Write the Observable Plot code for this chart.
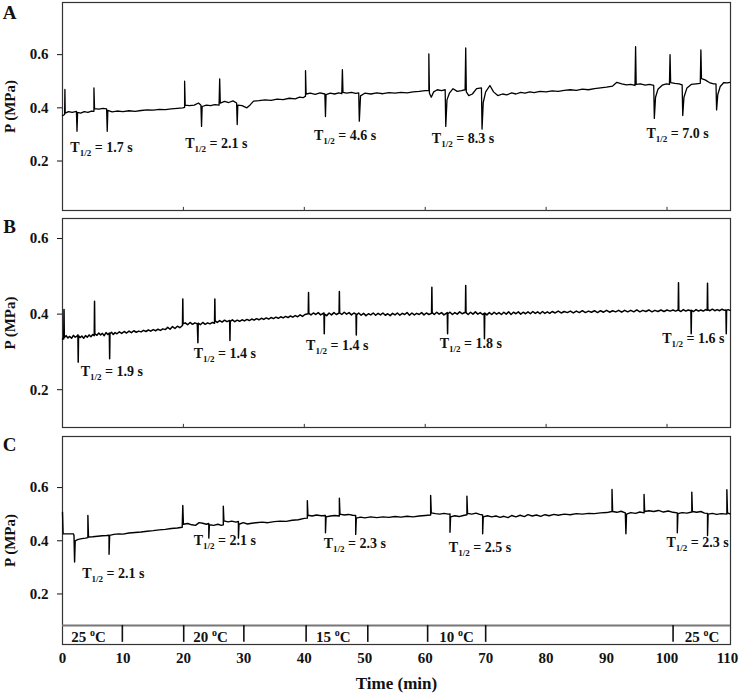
<!DOCTYPE html>
<html><head><meta charset="utf-8">
<script src="https://cdn.jsdelivr.net/npm/d3@7"></script>
<script src="https://cdn.jsdelivr.net/npm/@observablehq/plot@0.6"></script>
<style>
body{margin:0;background:#fff}
#wrap{position:relative;width:740px;height:694px;background:#fff}
#wrap svg{position:absolute;left:0}
#wrap svg g[aria-label*="tick label"], #wrap svg g[aria-label*="tick label"] text{font-size:15px}
</style></head><body><div id="wrap"></div>
<script>
// ---- data (time in min, pressure in MPa) ----
const traceA = [[0,0.37],[0.35,0.375],[0.4,0.469],[0.45,0.38],[1,0.386],[1.6,0.383],[2.3,0.387],[2.4,0.312],[2.5,0.383],[3,0.38],[3.6,0.386],[4.2,0.383],[4.8,0.388],[5.2,0.387],[5.2,0.475],[5.3,0.397],[6,0.395],[6.7,0.398],[7.3,0.396],[7.4,0.312],[7.5,0.39],[8.2,0.385],[9,0.388],[10,0.386],[11,0.389],[12,0.387],[13,0.39],[14,0.392],[15,0.391],[16,0.394],[17,0.393],[18,0.396],[19,0.398],[19.9,0.4],[20.2,0.402],[20.2,0.50],[20.3,0.41],[21,0.408],[21.8,0.41],[22.5,0.418],[22.9,0.41],[23.0,0.33],[23.1,0.405],[23.8,0.41],[24.5,0.408],[25.2,0.412],[25.9,0.41],[26.0,0.509],[26.1,0.418],[26.8,0.424],[27.5,0.42],[28.2,0.426],[28.8,0.418],[28.9,0.337],[29.0,0.41],[29.7,0.408],[30.5,0.4],[31,0.41],[31.6,0.425],[32.5,0.427],[33.5,0.43],[34.5,0.428],[35.5,0.433],[36.5,0.431],[37.5,0.436],[38.5,0.434],[39.2,0.44],[39.8,0.438],[40.2,0.444],[40.2,0.54],[40.3,0.452],[41,0.455],[41.8,0.451],[42.6,0.456],[43.4,0.452],[43.5,0.367],[43.6,0.45],[44.3,0.455],[45,0.452],[45.7,0.456],[46.2,0.453],[46.3,0.544],[46.4,0.458],[47,0.455],[47.8,0.458],[48.5,0.454],[49.0,0.456],[49.1,0.35],[49.3,0.445],[50,0.455],[51,0.452],[52,0.456],[53,0.453],[54,0.457],[55,0.455],[56,0.458],[57,0.456],[58,0.46],[59,0.462],[60,0.465],[60.6,0.466],[60.6,0.603],[60.7,0.455],[61,0.44],[61.4,0.46],[62,0.468],[62.7,0.465],[63.3,0.468],[63.4,0.33],[63.6,0.43],[64,0.455],[64.6,0.472],[65.3,0.462],[66,0.465],[66.6,0.468],[66.7,0.625],[66.8,0.46],[67.2,0.446],[67.8,0.452],[68.5,0.472],[69.3,0.475],[69.4,0.32],[69.6,0.42],[70,0.46],[70.7,0.484],[71.3,0.46],[72,0.446],[72.8,0.452],[73.5,0.449],[74.3,0.456],[75,0.452],[75.8,0.458],[76.5,0.455],[77.3,0.46],[78,0.457],[79,0.462],[80,0.46],[81,0.464],[82,0.462],[83,0.466],[84,0.468],[85,0.466],[86,0.47],[87,0.468],[88,0.472],[89,0.475],[90,0.478],[91,0.482],[91.7,0.496],[92.5,0.49],[93.3,0.486],[94,0.488],[94.7,0.484],[94.8,0.63],[94.9,0.488],[95.6,0.49],[96.4,0.485],[97.1,0.488],[97.8,0.484],[97.9,0.36],[98.1,0.44],[98.5,0.47],[99.2,0.485],[99.9,0.49],[100.4,0.488],[100.5,0.60],[100.6,0.495],[101.3,0.492],[102,0.49],[102.5,0.486],[102.6,0.371],[102.8,0.44],[103.3,0.475],[104,0.488],[104.8,0.49],[105.5,0.492],[105.6,0.618],[105.7,0.51],[106.3,0.505],[107,0.495],[107.7,0.49],[108.1,0.49],[108.2,0.392],[108.4,0.45],[108.8,0.48],[109.4,0.495],[110,0.494],[110.4,0.496]];

const traceB = [[0,0.334],[0.2,0.334],[0.25,0.412],[0.3,0.338],[0.6,0.343],[0.9,0.337],[1.2,0.341],[1.5,0.336],[1.8,0.344],[2.1,0.339],[2.4,0.342],[2.55,0.345],[2.6,0.273],[2.65,0.343],[2.9,0.338],[3.2,0.342],[3.5,0.336],[3.8,0.343],[4.1,0.339],[4.4,0.345],[4.7,0.34],[5.0,0.346],[5.25,0.343],[5.3,0.434],[5.35,0.348],[5.7,0.344],[6.0,0.35],[6.3,0.345],[6.6,0.349],[6.9,0.343],[7.2,0.351],[7.5,0.346],[7.75,0.35],[7.8,0.282],[7.85,0.348],[8.1,0.352],[8.4,0.346],[8.7,0.351],[9.0,0.348],[9.4,0.353],[9.8,0.349],[10.2,0.354],[10.6,0.35],[11.0,0.355],[11.4,0.351],[11.8,0.356],[12.2,0.352],[12.6,0.355],[13.0,0.353],[13.4,0.357],[13.8,0.354],[14.2,0.358],[14.6,0.355],[15.0,0.359],[15.4,0.356],[15.8,0.36],[16.2,0.357],[16.6,0.361],[17.0,0.359],[17.4,0.365],[17.8,0.36],[18.2,0.367],[18.6,0.362],[19.0,0.368],[19.4,0.364],[19.85,0.37],[19.9,0.44],[19.95,0.374],[20.3,0.377],[20.7,0.372],[21.1,0.378],[21.5,0.373],[21.9,0.377],[22.3,0.374],[22.4,0.324],[22.45,0.376],[22.8,0.372],[23.2,0.378],[23.6,0.373],[24.0,0.377],[24.4,0.374],[24.8,0.378],[25.15,0.376],[25.2,0.44],[25.25,0.382],[25.6,0.378],[26.0,0.383],[26.4,0.379],[26.8,0.384],[27.2,0.38],[27.65,0.383],[27.7,0.33],[27.75,0.381],[28.1,0.385],[28.5,0.38],[28.9,0.384],[29.3,0.381],[29.7,0.385],[30.1,0.382],[30.5,0.386],[30.9,0.383],[31.3,0.387],[31.7,0.384],[32.1,0.388],[32.5,0.385],[32.9,0.389],[33.3,0.386],[33.7,0.39],[34.1,0.387],[34.5,0.391],[34.9,0.388],[35.3,0.392],[35.7,0.389],[36.1,0.393],[36.5,0.39],[36.9,0.394],[37.3,0.391],[37.7,0.395],[38.1,0.392],[38.5,0.396],[38.9,0.393],[39.3,0.398],[39.7,0.394],[40.1,0.399],[40.65,0.401],[40.7,0.457],[40.75,0.402],[41.1,0.398],[41.5,0.403],[41.9,0.399],[42.3,0.404],[42.7,0.398],[43.25,0.403],[43.3,0.348],[43.35,0.4],[43.7,0.396],[44.1,0.403],[44.5,0.398],[44.9,0.404],[45.3,0.399],[45.75,0.403],[45.8,0.46],[45.85,0.403],[46.2,0.399],[46.6,0.405],[47.0,0.4],[47.4,0.404],[47.8,0.398],[48.2,0.403],[48.55,0.4],[48.6,0.345],[48.65,0.398],[49.0,0.403],[49.4,0.397],[49.8,0.402],[50.2,0.396],[50.6,0.401],[51.0,0.398],[51.4,0.403],[51.8,0.397],[52.2,0.402],[52.6,0.398],[53.0,0.403],[53.4,0.397],[53.8,0.401],[54.2,0.396],[54.6,0.402],[55.0,0.398],[55.4,0.403],[55.8,0.397],[56.2,0.402],[56.6,0.399],[57.0,0.404],[57.4,0.397],[57.8,0.403],[58.2,0.398],[58.6,0.402],[59.0,0.399],[59.4,0.404],[59.8,0.398],[60.2,0.403],[60.6,0.399],[61.05,0.402],[61.1,0.471],[61.15,0.404],[61.5,0.399],[61.9,0.405],[62.3,0.4],[62.7,0.404],[63.1,0.398],[63.65,0.404],[63.7,0.348],[63.75,0.401],[64.1,0.405],[64.5,0.399],[64.9,0.404],[65.3,0.4],[65.7,0.406],[66.1,0.401],[66.65,0.405],[66.7,0.476],[66.75,0.404],[67.1,0.399],[67.5,0.405],[67.9,0.4],[68.3,0.406],[68.7,0.4],[69.1,0.404],[69.5,0.399],[69.75,0.402],[69.8,0.335],[69.85,0.403],[70.2,0.398],[70.6,0.404],[71.0,0.399],[71.4,0.405],[71.8,0.4],[72.2,0.404],[72.6,0.399],[73.0,0.405],[73.4,0.4],[73.8,0.406],[74.2,0.399],[74.6,0.405],[75.0,0.401],[75.4,0.406],[75.8,0.4],[76.2,0.405],[76.6,0.401],[77.0,0.406],[77.4,0.401],[77.8,0.407],[78.2,0.402],[78.6,0.406],[79.0,0.401],[79.4,0.407],[79.8,0.402],[80.2,0.406],[80.6,0.402],[81.0,0.407],[81.5,0.403],[82.0,0.408],[82.5,0.403],[83.0,0.407],[83.5,0.404],[84.0,0.408],[84.5,0.403],[85.0,0.408],[85.5,0.404],[86.0,0.409],[86.5,0.404],[87.0,0.408],[87.5,0.405],[88.0,0.409],[88.5,0.404],[89.0,0.409],[89.5,0.405],[90.0,0.41],[90.5,0.405],[91.0,0.409],[91.5,0.406],[92.0,0.41],[92.5,0.405],[93.0,0.41],[93.5,0.406],[94.0,0.41],[94.5,0.406],[95.0,0.411],[95.5,0.406],[96.0,0.41],[96.5,0.407],[97.0,0.411],[97.5,0.406],[98.0,0.41],[98.5,0.407],[99.0,0.411],[99.5,0.407],[100.0,0.411],[100.5,0.408],[101.0,0.411],[101.4,0.408],[101.85,0.411],[101.9,0.483],[101.95,0.41],[102.3,0.407],[102.7,0.412],[103.1,0.408],[103.5,0.411],[103.95,0.409],[104.0,0.348],[104.05,0.41],[104.4,0.407],[104.8,0.412],[105.2,0.408],[105.6,0.411],[106.0,0.408],[106.4,0.412],[106.65,0.41],[106.7,0.482],[106.75,0.412],[107.1,0.409],[107.5,0.413],[107.9,0.409],[108.3,0.412],[108.7,0.409],[109.1,0.413],[109.5,0.41],[109.75,0.411],[109.8,0.348],[109.85,0.41],[110.1,0.412],[110.4,0.41]];

const traceC = [[0,0.507],[0.1,0.426],[1,0.426],[1.8,0.426],[1.9,0.42],[2.0,0.32],[2.1,0.4],[2.6,0.405],[3.2,0.408],[3.8,0.41],[4.2,0.412],[4.2,0.495],[4.3,0.414],[5,0.415],[5.8,0.417],[6.6,0.419],[7.3,0.42],[7.7,0.421],[7.7,0.349],[7.8,0.42],[8.5,0.424],[9.3,0.426],[10,0.425],[11,0.429],[12,0.431],[13,0.433],[14,0.436],[15,0.438],[16,0.441],[17,0.443],[18,0.446],[19,0.448],[19.8,0.451],[19.9,0.533],[20,0.462],[20.7,0.465],[21.4,0.46],[22,0.458],[22.6,0.468],[23.2,0.466],[23.8,0.462],[24.2,0.465],[24.2,0.41],[24.3,0.46],[25,0.458],[25.7,0.462],[26.3,0.458],[26.6,0.46],[26.6,0.53],[26.7,0.475],[27.4,0.471],[28,0.474],[28.7,0.47],[29.1,0.473],[29.1,0.41],[29.2,0.462],[29.9,0.468],[30.6,0.463],[31.3,0.466],[32,0.468],[33,0.47],[34,0.468],[35,0.472],[36,0.474],[37,0.473],[38,0.477],[39,0.479],[40,0.484],[40.5,0.485],[40.5,0.551],[40.6,0.496],[41.3,0.493],[42,0.497],[42.8,0.494],[43.5,0.495],[43.5,0.43],[43.6,0.49],[44.3,0.493],[45,0.495],[45.8,0.493],[45.8,0.56],[45.9,0.5],[46.6,0.497],[47.3,0.499],[48,0.496],[48.5,0.495],[48.5,0.424],[48.6,0.485],[49.3,0.489],[50,0.486],[51,0.49],[52,0.487],[53,0.49],[54,0.488],[55,0.491],[56,0.489],[57,0.492],[58,0.49],[59,0.493],[60,0.495],[60.9,0.497],[60.9,0.57],[61,0.505],[61.7,0.502],[62.4,0.5],[63.1,0.503],[63.8,0.5],[64.1,0.501],[64.1,0.432],[64.2,0.49],[64.9,0.494],[65.6,0.491],[66.3,0.495],[66.9,0.498],[66.9,0.568],[67,0.503],[67.7,0.5],[68.4,0.504],[69,0.499],[69.5,0.497],[69.5,0.426],[69.6,0.49],[70.3,0.494],[71,0.49],[71.7,0.493],[72.4,0.488],[73,0.492],[73.7,0.487],[74.3,0.495],[75,0.49],[75.7,0.496],[76.4,0.491],[77,0.498],[77.7,0.493],[78.4,0.497],[79.1,0.492],[79.8,0.498],[80.5,0.494],[81.3,0.499],[82,0.496],[83,0.5],[84,0.498],[85,0.502],[86,0.5],[87,0.503],[88,0.502],[89,0.505],[90,0.506],[90.9,0.51],[90.9,0.593],[91,0.51],[91.7,0.507],[92.4,0.511],[93.1,0.505],[93.2,0.426],[93.3,0.5],[94,0.506],[94.8,0.503],[95.5,0.508],[96.2,0.505],[96.2,0.574],[96.3,0.51],[97,0.513],[97.8,0.51],[98.6,0.514],[99.4,0.508],[100.2,0.512],[101,0.507],[101.7,0.505],[101.7,0.43],[101.8,0.502],[102.5,0.506],[103.3,0.504],[104.1,0.508],[104.1,0.583],[104.2,0.51],[104.9,0.507],[105.6,0.51],[106.2,0.504],[106.7,0.503],[106.7,0.42],[106.8,0.5],[107.5,0.503],[108.2,0.499],[109,0.502],[109.9,0.5],[109.9,0.592],[110,0.505],[110.4,0.501]];

// half-time annotations: time, pressure position, value
const halfTimeA = ["1.7", "2.1", "4.6", "8.3", "7.0"];
const labelTimeA = [1.3, 20.3, 41.6, 61.1, 96.6];
const labelPressA = [0.252, 0.265, 0.296, 0.285, 0.302];
const halfTimeB = ["1.9", "1.4", "1.4", "1.8", "1.6"];
const labelTimeB = [3.0, 21.7, 40.3, 62.4, 99.2];
const labelPressB = [0.247, 0.295, 0.317, 0.322, 0.335];
const halfTimeC = ["2.1", "2.1", "2.3", "2.5", "2.3"];
const labelTimeC = [3.25, 21.7, 43.2, 63.9, 99.9];
const labelPressC = [0.276, 0.401, 0.389, 0.376, 0.392];

// temperature protocol
const tempLabels = ["25", "20", "15", "10", "25"];
const tempLabelTime = [4.3, 24.5, 44.8, 65.2, 105.8];
const tempEdges = [9.9, 20.05, 30.0, 40.3, 50.5, 60.4, 70.0, 101.0];

const yTicks = [0.2, 0.4, 0.6];
const xTicks = [0, 10, 20, 30, 40, 50, 60, 70, 80, 90, 100, 110];
const innerTicks = [20, 40, 60, 80, 100];

const FONT = '"Liberation Serif", "Times New Roman", Times, serif';
const X_DOMAIN = [0, 110.5];

function labels(times, press, vals) {
  return times.map((t, i) => ({t, p: press[i], text: "T1/2 = " + vals[i] + " s"}));
}

function richText(svg) {
  d3.select(svg).selectAll("text").each(function () {
    const s = this.textContent;
    let m = s.match(/^T1\/2 = (.+)$/);
    if (m) {
      const el = d3.select(this);
      el.text(null);
      el.append("tspan").text("T");
      el.append("tspan").attr("font-size", 9).attr("dy", 4).text("1/2");
      el.append("tspan").attr("dy", -4).text(" = " + m[1]);
      return;
    }
    m = s.match(/^(\d+) °C$/);
    if (m) {
      const el = d3.select(this);
      el.text(null);
      el.append("tspan").text(m[1] + " ");
      el.append("tspan").attr("font-size", 10).attr("dy", -6).text("o");
      el.append("tspan").attr("dy", 6).text("C");
    }
  });
}

function panel({trace, yDomain, top, height, marginBottom, letter, letterDy, lab, bottomPanel, lineWidth}) {
  const marks = [
    Plot.frame({stroke: "#333", strokeWidth: 1.2}),
    Plot.line(trace, {x: d => d[0], y: d => d[1], stroke: "#000", strokeWidth: lineWidth}),
    Plot.text(lab, {x: "t", y: "p", text: "text", textAnchor: "start", fontSize: 14, fontWeight: "bold", fill: "#111"}),
    Plot.text([letter], {frameAnchor: "top-left", lineAnchor: "middle", dx: -53, dy: letterDy, fontSize: 19, fontWeight: "bold", textAnchor: "middle"}),
    Plot.text(["P (MPa)"], {frameAnchor: "left", lineAnchor: "middle", dx: -52, rotate: -90, fontSize: 15, fontWeight: "bold", textAnchor: "middle"})
  ];
  if (!bottomPanel) {
    marks.push(Plot.ruleX(innerTicks, {y1: yDomain[0], y2: yDomain[0] + (yDomain[1] - yDomain[0]) * 0.015, stroke: "#333"}));
  } else {
    const bandTop = 0.0816;
    marks.push(Plot.ruleY([bandTop], {stroke: "#777", strokeWidth: 2}));
    marks.push(Plot.ruleX(tempEdges, {y1: 0.018, y2: bandTop, stroke: "#111", strokeWidth: 1.6}));
    marks.push(Plot.text(tempLabels.map((l, i) => ({t: tempLabelTime[i], text: l + " °C"})),
      {x: "t", y: 0.0376, text: "text", fontSize: 15, fontWeight: "bold", textAnchor: "middle"}));
    marks.push(Plot.text(["Time (min)"], {frameAnchor: "bottom", lineAnchor: "middle", dy: 39, fontSize: 17, fontWeight: "bold"}));
  }
  const svg = Plot.plot({
    width: 740,
    height,
    marginLeft: 62,
    marginRight: 10,
    marginTop: 2,
    marginBottom,
    style: {fontFamily: FONT, fontSize: "15px", fontWeight: "bold", background: "transparent", color: "#111", overflow: "visible"},
    x: bottomPanel
      ? {domain: X_DOMAIN, ticks: xTicks, tickSize: 0, tickPadding: 8, tickFormat: d => String(d), label: null}
      : {domain: X_DOMAIN, axis: null},
    y: {domain: yDomain, ticks: yTicks, tickSize: 5, tickPadding: 9, tickFormat: d => d.toFixed(1), label: null},
    marks
  });
  svg.style.top = top + "px";
  richText(svg);
  return svg;
}

const wrap = document.getElementById("wrap");
wrap.appendChild(panel({trace: traceA, yDomain: [0.014, 0.796], top: 0, height: 212, marginBottom: 2,
  letter: "A", letterDy: 10, lab: labels(labelTimeA, labelPressA, halfTimeA), bottomPanel: false, lineWidth: 1.3}));
wrap.appendChild(panel({trace: traceB, yDomain: [0.1, 0.653], top: 216, height: 213, marginBottom: 2,
  letter: "B", letterDy: 8, lab: labels(labelTimeB, labelPressB, halfTimeB), bottomPanel: false, lineWidth: 1.5}));
wrap.appendChild(panel({trace: traceC, yDomain: [0.01, 0.792], top: 434, height: 260, marginBottom: 50,
  letter: "C", letterDy: 8, lab: labels(labelTimeC, labelPressC, halfTimeC), bottomPanel: true, lineWidth: 1.4}));
</script></body></html>
